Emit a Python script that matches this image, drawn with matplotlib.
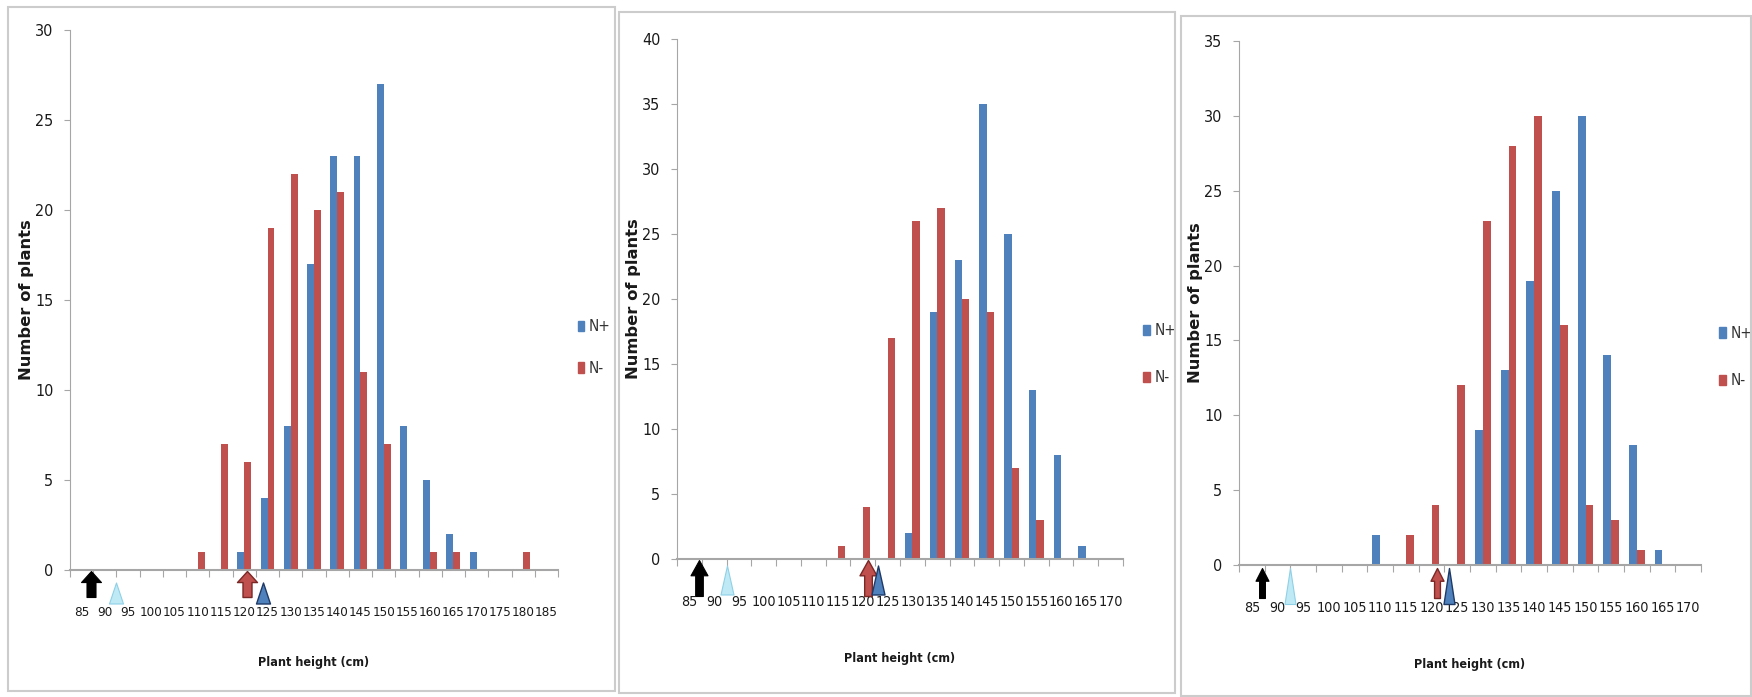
import numpy as np
import matplotlib
matplotlib.use("Agg")
import matplotlib.pyplot as plt
from matplotlib.path import Path
from matplotlib.patches import Rectangle, Patch
from matplotlib import transforms
from matplotlib import font_manager

# condensed font for the Excel-like numbers, if there is one
fp = font_manager.FontProperties(family='DejaVu Sans', stretch='condensed')
fpath = font_manager.findfont(fp, fallback_to_default=True)
HAS_COND = 'Condensed' in fpath
COND = dict(family='DejaVu Sans', stretch='condensed') if HAS_COND else dict(family='Liberation Sans')

# ---- data ----
heights_a = ['85', '90', '95', '100', '105', '110', '115', '120', '125', '130', '135',
             '140', '145', '150', '155', '160', '165', '170', '175', '180', '185']
n_plus_a = [0, 0, 0, 0, 0, 0, 0, 1, 4, 8, 17, 23, 23, 27, 8, 5, 2, 1, 0, 0, 0]
n_minus_a = [0, 0, 0, 0, 0, 1, 7, 6, 19, 22, 20, 21, 11, 7, 0, 1, 1, 0, 0, 1, 0]

heights_b = ['85', '90', '95', '100', '105', '110', '115', '120', '125', '130', '135',
             '140', '145', '150', '155', '160', '165', '170']
n_plus_b = [0, 0, 0, 0, 0, 0, 0, 0, 0, 2, 19, 23, 35, 25, 13, 8, 1, 0]
n_minus_b = [0, 0, 0, 0, 0, 0, 1, 4, 17, 26, 27, 20, 19, 7, 3, 0, 0, 0]

heights_c = ['85', '90', '95', '100', '105', '110', '115', '120', '125', '130', '135',
             '140', '145', '150', '155', '160', '165', '170']
n_plus_c = [0, 0, 0, 0, 0, 2, 0, 0, 0, 9, 13, 19, 25, 30, 14, 8, 1, 0]
n_minus_c = [0, 0, 0, 0, 0, 0, 2, 4, 12, 23, 28, 30, 16, 4, 3, 1, 0, 0]

# marker positions under the axis (cm): black arrow, light-blue triangle, red arrow, blue triangle
marks_a = [87, 92.5, 120.5, 124]
marks_b = [87, 92.5, 121, 123]
marks_c = [87, 92.5, 121, 123.5]

ymax = [30, 40, 35]

BLUE = '#4F81BD'
RED = '#C0504D'
AXC = '#a6a6a6'
TXT = '#1a1a1a'


def arrow(hw):
    # block arrow pointing up, hw = half width / half height
    s = hw * 0.45
    return Path([(0, 1), (hw, 0.15), (s, 0.15), (s, -1), (-s, -1),
                 (-s, 0.15), (-hw, 0.15), (0, 1)], closed=True)


def tri(hw):
    return Path([(0, 1), (hw, -1), (-hw, -1), (0, 1)], closed=True)


fig = plt.figure(figsize=(17.52, 6.97), dpi=100)

# panel frames (figure pixel boxes)
W, H = 1752.0, 697.0
frames = [(8, 7, 615, 691), (619, 12, 1175, 693), (1181, 16, 1751, 696)]
for x0, y0, x1, y1 in frames:
    fig.patches.append(Rectangle((x0 / W, 1 - y1 / H), (x1 - x0) / W, (y1 - y0) / H,
                                 transform=fig.transFigure, fill=False,
                                 edgecolor='#cccccc', lw=1.5))

boxes = [(70, 558, 30, 570), (677, 1123, 39, 559), (1239, 1701, 41, 565)]
cats = [heights_a, heights_b, heights_c]
plus = [n_plus_a, n_plus_b, n_plus_c]
minus = [n_minus_a, n_minus_b, n_minus_c]
marks = [marks_a, marks_b, marks_c]
ylab_x = [-0.074, -0.081, -0.078]
xlab_y = [-0.159, -0.179, -0.178]
leg_pos = [(1.040, 0.412), (1.045, 0.394), (1.039, 0.397)]
leg_sp = [1.75, 2.1, 2.1]
xt_size = [9.6, 10.3, 10.3]
# marker sizes in px: (arrow w, arrow h, arrow centre below axis, tri w, tri h, tri centre below axis)
msz = [(20, 26, 14, 14, 21, 23),
       (17, 36, 19, 13, 29, 21),
       (13, 30, 18, 11, 36, 21)]
PT = 72.0 / 100.0

for i in range(3):
    l, r, t, b = boxes[i]
    ax = fig.add_axes([l / W, 1 - b / H, (r - l) / W, (b - t) / H])
    n = len(cats[i])
    x = np.arange(n)
    w = 0.30
    ax.bar(x - w / 2, plus[i], w, color=BLUE, label='N+')
    ax.bar(x + w / 2, minus[i], w, color=RED, label='N-')

    ax.set_xlim(-0.5, n - 0.5)
    ax.set_ylim(0, ymax[i])
    ax.set_yticks(np.arange(0, ymax[i] + 1, 5))

    # x ticks between categories, labels centred
    ax.set_xticks(np.arange(-0.5, n, 1.0))
    ax.set_xticklabels([])
    ax.set_xticks(x, minor=True)
    ax.set_xticklabels(cats[i], minor=True, **COND)
    for lab in ax.get_yticklabels():
        lab.set(**COND)
    ax.tick_params(axis='x', which='major', length=5, color=AXC, direction='out')
    ax.tick_params(axis='x', which='minor', length=0, pad=26, labelsize=xt_size[i], labelcolor=TXT)
    ax.tick_params(axis='y', length=4, color=AXC, labelsize=11.5, labelcolor=TXT, pad=8)

    for s in ['top', 'right']:
        ax.spines[s].set_visible(False)
    ax.spines['left'].set_color(AXC)
    ax.spines['bottom'].set_color(AXC)
    ax.spines['bottom'].set_linewidth(1.5)

    ax.set_ylabel('Number of plants', family=['DejaVu Sans'], fontweight='bold',
                  fontsize=11.8, color=TXT)
    ax.yaxis.set_label_coords(ylab_x[i], 0.5)
    ax.set_xlabel('Plant height (cm)', fontsize=9, fontweight='bold', color=TXT, **COND)
    ax.xaxis.set_label_coords(0.5, xlab_y[i])

    # arrows / triangles below axis
    aw, ah, ad, tw, th, td = msz[i]
    mx = [(m - 85) / 5.0 for m in marks[i]]
    ya = transforms.blended_transform_factory(ax.transData, ax.transAxes) + \
        transforms.ScaledTranslation(0, -ad / 100.0, fig.dpi_scale_trans)
    yt = transforms.blended_transform_factory(ax.transData, ax.transAxes) + \
        transforms.ScaledTranslation(0, -td / 100.0, fig.dpi_scale_trans)
    ar = arrow(aw / ah)
    tp = tri(tw / th)
    ax.plot(mx[0], 0, marker=ar, ms=ah * PT, mfc='black', mec='black', mew=0.8,
            transform=ya, clip_on=False, ls='none')
    ax.plot(mx[1], 0, marker=tp, ms=th * PT, mfc='#bfeaf5', mec='#8fd0e6', mew=0.8,
            transform=yt, clip_on=False, ls='none')
    ax.plot(mx[2], 0, marker=ar, ms=ah * PT, mfc=RED, mec='#7a2826', mew=1.0,
            transform=ya, clip_on=False, ls='none')
    ax.plot(mx[3], 0, marker=tp, ms=th * PT, mfc=BLUE, mec='#1f3a66', mew=1.0,
            transform=yt, clip_on=False, ls='none')

    handles = [Patch(color=BLUE), Patch(color=RED)]
    leg = ax.legend(handles, ['N+', 'N-'], loc='center left', bbox_to_anchor=leg_pos[i],
                    frameon=False, handlelength=0.45, handleheight=0.65, handletextpad=0.3,
                    labelspacing=leg_sp[i], borderpad=0, borderaxespad=0, fontsize=11,
                    labelcolor='#333333')
    for txt in leg.get_texts():
        txt.set(**COND)

fig.savefig('out.png', dpi=100)
